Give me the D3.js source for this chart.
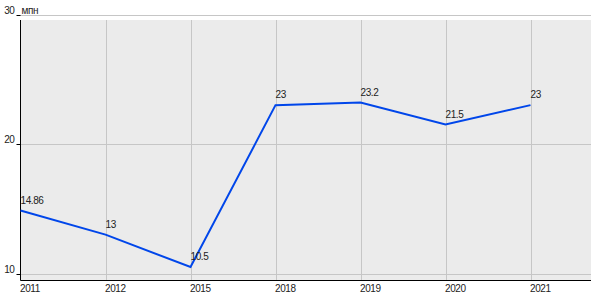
<!DOCTYPE html>
<html>
<head>
<meta charset="utf-8">
<script src="https://cdn.jsdelivr.net/npm/d3@7"></script>
<style>
  body { margin: 0; background: #fff; }
  svg text { font-family: "Liberation Sans", Arial, sans-serif; font-size: 10px; letter-spacing: -0.4px; fill: #222; }
</style>
</head>
<body>
<svg id="chart" width="600" height="300"></svg>
<script>
const years = ["2011", "2012", "2015", "2018", "2019", "2020", "2021"];
const values = [14.86, 13, 10.5, 23, 23.2, 21.5, 23];
const valueLabels = ["14.86", "13", "10.5", "23", "23.2", "21.5", "23"];
const yTicks = [10, 20, 30];
const unit = "мпн";

(function () {
  const svg = d3.select("#chart");

  const left = 20.5, right = 591, plotTop = 20, plotBottom = 280.5;

  const x = d3.scalePoint()
    .domain(years)
    .range([left, left + 85 * (years.length - 1)]);

  const y = d3.scaleLinear()
    .domain([10, 30])
    .range([273.5, 14.5]);

  // plot background
  svg.append("rect")
    .attr("x", left)
    .attr("y", plotTop)
    .attr("width", right - left)
    .attr("height", plotBottom - plotTop)
    .attr("fill", "#ebebeb");

  // horizontal grid
  svg.append("g")
    .selectAll("line")
    .data(yTicks)
    .enter().append("line")
    .attr("x1", left - 3)
    .attr("x2", right)
    .attr("y1", d => Math.round(y(d)) + 0.5)
    .attr("y2", d => Math.round(y(d)) + 0.5)
    .attr("stroke", "#c6c6c6");

  // tick marks on the left
  svg.append("g")
    .selectAll("line")
    .data(yTicks)
    .enter().append("line")
    .attr("x1", left - 4)
    .attr("x2", left)
    .attr("y1", d => Math.round(y(d)) + 0.5)
    .attr("y2", d => Math.round(y(d)) + 0.5)
    .attr("stroke", "#000");

  // vertical grid
  svg.append("g")
    .selectAll("line")
    .data(years.slice(1))
    .enter().append("line")
    .attr("x1", d => Math.round(x(d)) + 0.5)
    .attr("x2", d => Math.round(x(d)) + 0.5)
    .attr("y1", plotTop)
    .attr("y2", plotBottom)
    .attr("stroke", "#c6c6c6");

  // axes
  svg.append("line")
    .attr("x1", left).attr("x2", left)
    .attr("y1", plotTop).attr("y2", plotBottom)
    .attr("stroke", "#000");
  svg.append("line")
    .attr("x1", left).attr("x2", right)
    .attr("y1", plotBottom).attr("y2", plotBottom)
    .attr("stroke", "#000");

  // y labels
  svg.append("g")
    .selectAll("text")
    .data(yTicks)
    .enter().append("text")
    .attr("x", left - 6)
    .attr("y", d => y(d) - 1)
    .attr("text-anchor", "end")
    .text(d => d);

  svg.append("text")
    .attr("x", left + 1)
    .attr("y", y(30) - 1)
    .text(unit);

  // x labels
  svg.append("g")
    .selectAll("text")
    .data(years)
    .enter().append("text")
    .attr("x", d => x(d) - 0.5)
    .attr("y", 291.5)
    .text(d => d);

  // line
  const line = d3.line()
    .x((d, i) => x(years[i]))
    .y(d => y(d));

  svg.append("path")
    .datum(values)
    .attr("d", line)
    .attr("fill", "none")
    .attr("stroke", "#0046ea")
    .attr("stroke-width", 2);

  // value labels
  svg.append("g")
    .selectAll("text")
    .data(values)
    .enter().append("text")
    .attr("x", (d, i) => x(years[i]))
    .attr("y", d => y(d) - 7)
    .text((d, i) => valueLabels[i]);
})();
</script>
</body>
</html>
